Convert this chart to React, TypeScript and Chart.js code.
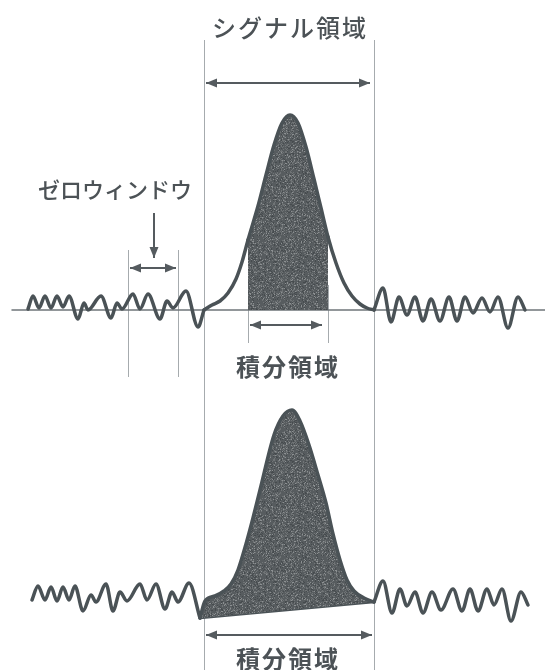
import React, { useEffect, useRef } from 'react';
import { Chart, registerables } from 'chart.js';

Chart.register(...registerables);

// x: sample position along the trace, y: amplitude (each trace's baseline = 0)
const upperNoiseLeft: [number, number][] = [
  [28, 1], [33, 14], [39, 2], [45, 14], [51, 2], [57, 14], [63, 3], [69, 14], [78, -9], [84, 7],
  [88, 0], [101, 14], [111, -8], [117, 7], [122, 1], [133, 16], [140, 1], [148, 16], [160, -9],
  [167, 9], [173, 2], [186, 19], [198, -17], [204, 0],
];
const upperSignal: [number, number][] = [
  [204, 0], [212, 5], [220, 9], [228, 17], [236, 31], [242, 48], [248, 70], [258, 104], [266, 135],
  [274, 165], [282, 187], [290, 195], [298, 187], [306, 163], [314, 131], [321, 102], [328, 73],
  [336, 47], [344, 27], [352, 14], [360, 6], [367, 2], [374, 0],
];
const upperNoiseRight: [number, number][] = [
  [374, 0], [383, 22], [391, -12], [399, 13], [407, -5], [415, 13], [423, -11], [431, 11], [440, -11],
  [449, 13], [457, -11], [465, 13], [473, -3], [482, 12], [490, -2], [498, 13], [508, -18], [518, 13],
  [525, 0],
];
const lowerNoiseLeft: [number, number][] = [
  [32, 0], [38, 14], [45, 0], [51, 13], [57, -1], [63, 13], [69, 0], [75, 14], [83, -11], [91, 5],
  [96, -2], [106, 16], [113, -11], [120, 8], [127, -1], [140, 16], [147, 0], [156, 16], [165, -9],
  [172, 8], [178, -2], [189, 17], [200, -18],
];
const lowerSignal: [number, number][] = [
  [200, -18], [205, -1], [215, 4], [224, 9], [231, 16], [238, 30], [246, 56], [253, 82], [260, 110],
  [274, 165], [283, 184], [292, 190], [300, 179], [309, 155], [318, 125], [326, 97], [333, 66],
  [340, 40], [347, 20], [354, 9], [364, 2], [374, -2],
];
const lowerSignalBase: [number, number][] = [[200, -18], [374, -2]];
const lowerNoiseRight: [number, number][] = [
  [374, -2], [383, 19], [392, -13], [400, 11], [407, -6], [415, 8], [423, -13], [432, 8], [441, -10],
  [453, 11], [462, -11], [470, 11], [478, -11], [487, 11], [494, -5], [502, 11], [511, -21], [521, 8],
  [528, -5],
];
const baselineSpan: [number, number][] = [[12, 0], [545, 0]];

const signalRegion = [204, 374];
const zeroWindow = [128, 178];
const integralWindow = [248, 328];
const integralArrowUpper = [250, 322];
const integralArrowLower = [206, 372];

const labelSignal = 'シグナル領域';
const labelZero = 'ゼロウィンドウ';
const labelIntegral = '積分領域';

const CURVE = '#4a5256';
const GUIDE = '#a6abae';
const ARROW = '#555b5f';
const TEXT = '#4c5256';
const BASE = '#6f767a';
const FONT = '"Noto Sans CJK JP", "Noto Sans", sans-serif';

const toXY = (arr: [number, number][]) => arr.map(([x, y]) => ({ x, y }));

// granular grey texture for the shaded (integrated) areas
function makeShade(): CanvasPattern | string {
  const c = document.createElement('canvas');
  c.width = 64;
  c.height = 64;
  const g = c.getContext('2d');
  if (!g) return '#5e6366';
  g.fillStyle = '#575c5f';
  g.fillRect(0, 0, 64, 64);
  for (let yy = 0; yy < 64; yy++) {
    for (let xx = 0; xx < 64; xx++) {
      const h = Math.abs(Math.sin(xx * 12.9898 + yy * 78.233) * 43758.5453) % 1;
      if (h > 0.72) {
        const v = h > 0.93 ? 140 : 112;
        g.fillStyle = `rgb(${v},${v + 4},${v + 6})`;
        g.fillRect(xx, yy, 1, 1);
      } else if (h < 0.12) {
        g.fillStyle = '#464b4e';
        g.fillRect(xx, yy, 1, 1);
      }
    }
  }
  return g.createPattern(c, 'repeat') || '#5e6366';
}

function drawArrow(ctx: CanvasRenderingContext2D, x1: number, y1: number, x2: number, y2: number, both: boolean) {
  const head = (tx: number, ty: number, fx: number, fy: number) => {
    const a = Math.atan2(ty - fy, tx - fx);
    const L = 11, W = 4.5;
    ctx.beginPath();
    ctx.moveTo(tx, ty);
    ctx.lineTo(tx - L * Math.cos(a) + W * Math.sin(a), ty - L * Math.sin(a) - W * Math.cos(a));
    ctx.lineTo(tx - L * Math.cos(a) - W * Math.sin(a), ty - L * Math.sin(a) + W * Math.cos(a));
    ctx.closePath();
    ctx.fill();
  };
  ctx.beginPath();
  ctx.moveTo(x1, y1);
  ctx.lineTo(x2, y2);
  ctx.stroke();
  head(x2, y2, x1, y1);
  if (both) head(x1, y1, x2, y2);
}

const annotate = {
  id: 'annotate',
  beforeDatasetsDraw(chart: any) {
    const { ctx, scales } = chart;
    const x = scales.x, yT = scales.yTop;
    ctx.save();
    ctx.strokeStyle = GUIDE;
    ctx.lineWidth = 1;
    const vline = (xv: number, y1: number, y2: number) => {
      const px = Math.round(x.getPixelForValue(xv)) + 0.5;
      ctx.beginPath();
      ctx.moveTo(px, yT.getPixelForValue(y1));
      ctx.lineTo(px, yT.getPixelForValue(y2));
      ctx.stroke();
    };
    signalRegion.forEach((v) => vline(v, 270, -360));
    zeroWindow.forEach((v) => vline(v, 60, -67));
    integralWindow.forEach((v) => vline(v, 25, -33));
    ctx.restore();
  },
  afterDatasetsDraw(chart: any) {
    const { ctx, scales } = chart;
    const x = scales.x, yT = scales.yTop, yB = scales.yBottom;
    ctx.save();
    ctx.strokeStyle = ARROW;
    ctx.fillStyle = ARROW;
    ctx.lineWidth = 2;
    drawArrow(ctx, x.getPixelForValue(signalRegion[0] + 2), yT.getPixelForValue(227),
      x.getPixelForValue(signalRegion[1] - 4), yT.getPixelForValue(227), true);
    drawArrow(ctx, x.getPixelForValue(zeroWindow[0] + 2), yT.getPixelForValue(42),
      x.getPixelForValue(zeroWindow[1] - 2), yT.getPixelForValue(42), true);
    drawArrow(ctx, x.getPixelForValue(154), yT.getPixelForValue(97),
      x.getPixelForValue(154), yT.getPixelForValue(52), false);
    drawArrow(ctx, x.getPixelForValue(integralArrowUpper[0]), yT.getPixelForValue(-15),
      x.getPixelForValue(integralArrowUpper[1]), yT.getPixelForValue(-15), true);
    drawArrow(ctx, x.getPixelForValue(integralArrowLower[0]), yB.getPixelForValue(-35),
      x.getPixelForValue(integralArrowLower[1]), yB.getPixelForValue(-35), true);

    ctx.fillStyle = TEXT;
    ctx.textAlign = 'center';
    ctx.textBaseline = 'middle';
    (ctx as any).letterSpacing = '2px';
    ctx.font = `500 24px ${FONT}`;
    ctx.fillText(labelSignal, x.getPixelForValue(290), yT.getPixelForValue(282));
    (ctx as any).letterSpacing = '0px';
    ctx.font = `500 22px ${FONT}`;
    ctx.fillText(labelZero, x.getPixelForValue(115), yT.getPixelForValue(120));
    (ctx as any).letterSpacing = '2px';
    ctx.font = `bold 24px ${FONT}`;
    ctx.fillText(labelIntegral, x.getPixelForValue(288), yT.getPixelForValue(-57));
    ctx.fillText(labelIntegral, x.getPixelForValue(288), yB.getPixelForValue(-59));
    ctx.restore();
  },
};

export default function App() {
  const ref = useRef<HTMLCanvasElement>(null);
  useEffect(() => {
    document.body.style.margin = '0';
    const canvas = ref.current!;
    const shade = makeShade();
    const line = (data: [number, number][], yAxisID: string, extra: any = {}) => ({
      data: toXY(data),
      xAxisID: 'x',
      yAxisID,
      borderColor: CURVE,
      borderWidth: 3.5,
      pointRadius: 0,
      cubicInterpolationMode: 'monotone',
      fill: false,
      borderCapStyle: 'round',
      borderJoinStyle: 'round',
      ...extra,
    });
    const chart = new Chart(canvas, {
      type: 'line',
      data: {
        datasets: [
          line(upperSignal, 'yTop', {
            fill: { target: { value: 0 } },
            backgroundColor: 'rgba(0,0,0,0)',
            borderWidth: 3.5,
            segment: {
              backgroundColor: (c: any) =>
                c.p0.parsed.x >= integralWindow[0] - 0.01 && c.p1.parsed.x <= integralWindow[1] + 0.01
                  ? shade
                  : undefined,
            },
          }),
          line(upperNoiseLeft, 'yTop'),
          line(upperNoiseRight, 'yTop'),
          line(lowerSignal, 'yBottom', { fill: '+1', backgroundColor: shade, borderWidth: 3.5 }),
          line(lowerSignalBase, 'yBottom', { cubicInterpolationMode: 'default', tension: 0, borderWidth: 2.5 }),
          line(lowerNoiseLeft, 'yBottom'),
          line(lowerNoiseRight, 'yBottom'),
          line(baselineSpan, 'yTop', { borderColor: BASE, borderWidth: 1.5, tension: 0, cubicInterpolationMode: 'default', order: 5 }),
        ] as any,
      },
      options: {
        responsive: false,
        animation: false,
        events: [],
        layout: { padding: 0 },
        plugins: {
          legend: { display: false },
          tooltip: { enabled: false },
          title: { display: false },
        },
        scales: {
          x: { type: 'linear', min: 0, max: 545, display: false },
          yTop: { type: 'linear', min: -360, max: 310, display: false },
          yBottom: { type: 'linear', min: -70, max: 600, display: false },
        },
      } as any,
      plugins: [annotate],
    });
    return () => chart.destroy();
  }, []);
  return (
    <div style={{ width: 545, height: 670, background: '#fff' }}>
      <canvas ref={ref} width={545} height={670} style={{ display: 'block' }} />
    </div>
  );
}
